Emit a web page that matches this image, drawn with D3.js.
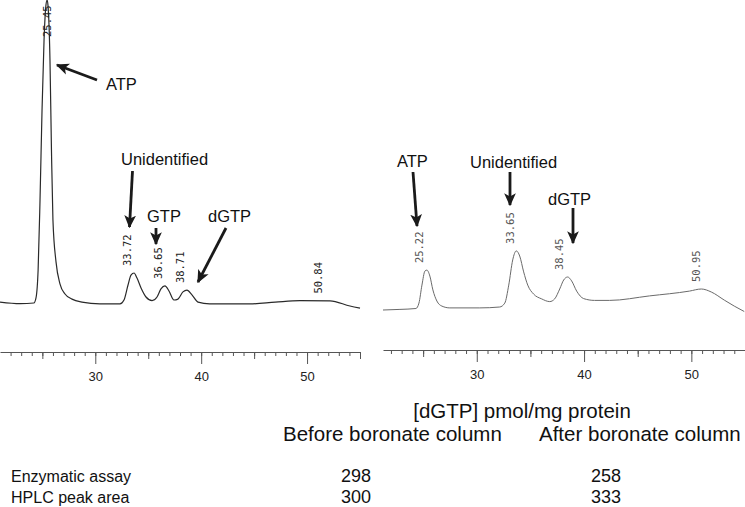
<!DOCTYPE html>
<html lang="en">
<head>
    <meta charset="UTF-8">
    <title>dGTP HPLC</title>
    <script src="https://cdn.jsdelivr.net/npm/d3@7"></script>
    <style>
        body { margin: 0; background: #fff; }
    </style>
</head>
<body>

<script>

    // trace before boronate column: retention time (min) / detector signal (arb. units)
    var beforeTime = [21.0, 22.9, 24.2, 24.4, 24.6, 24.78, 24.97, 25.16, 25.34, 25.45, 25.53, 25.72, 25.86, 26.0,
        26.29, 26.67, 27.14, 27.8, 28.74, 30.44, 32.33, 32.71, 33.09, 33.37, 33.66, 33.94, 34.32, 34.79, 35.36,
        35.83, 36.2, 36.58, 36.96, 37.43, 37.81, 38.28, 38.66, 39.13, 39.7, 40.8, 44.6, 47.0, 49.33, 52.17, 54.05, 55.0];
    var beforeSignal = [0.3, -0.2, 0, 1.7, 11, 34.3, 64.3, 87.7, 99.3, 101, 99.3, 81, 51, 27.7,
        13.7, 6.3, 3, 1.3, 0.3, -0.3, -0.3, 1, 6, 9.3, 10, 8.3, 5, 2, 0.8,
        2, 4.7, 5.7, 4, 1, 1.3, 3.7, 4.3, 2.7, 0.3, -0.3, -0.3, 0.3, 0.8, 0.7, -1, -1.7];

    // trace after boronate column
    var afterTime = [21.26, 22.84, 24.33, 24.61, 24.89, 25.17, 25.35, 25.63, 25.91, 26.28, 26.75, 27.49, 30.28,
        32.14, 32.61, 32.98, 33.35, 33.68, 34.0, 34.37, 34.75, 35.3, 36.05, 36.8, 37.26, 37.73, 38.1, 38.47,
        38.84, 39.31, 39.96, 40.98, 42.38, 46.1, 49.82, 50.93, 51.86, 53.07, 54.0, 54.93];
    var afterSignal = [0, 0.2, 0.5, 2.3, 8.3, 13, 13.3, 11.3, 6.7, 3, 1.3, 0.7, 0.7,
        1, 2.3, 8.3, 16.7, 19.7, 18, 12.7, 8.3, 5.3, 3.7, 2.8, 3.7, 7, 10, 11,
        9.7, 6.3, 3.8, 3.2, 3.2, 4.7, 6.3, 7, 6, 3.3, 1.3, -0.5];

    // integrator retention times printed on the peaks
    var beforePeaks = [25.45, 33.72, 36.65, 38.71, 50.84];
    var afterPeaks = [25.22, 33.65, 38.45, 50.95];

    // ruler
    var majorTicks = [30, 40, 50];
    var midTicks = [25, 35, 45, 55];

    // table
    var tableTitle = "[dGTP] pmol/mg protein";
    var columns = ["Before boronate column", "After boronate column"];
    var rowLabels = ["Enzymatic assay", "HPLC peak area"];
    var beforeValues = [298, 300];
    var afterValues = [258, 333];


    var w = 745, h = 507;

    var svg = d3.select("body")
        .append("svg")
        .attr("width", w)
        .attr("height", h)
        .style("font-family", "'Liberation Sans', Arial, sans-serif");

    // arrow head
    svg.append("defs").append("marker")
        .attr("id", "head")
        .attr("viewBox", "0 0 10 10")
        .attr("refX", 9)
        .attr("refY", 5)
        .attr("markerUnits", "userSpaceOnUse")
        .attr("markerWidth", 13)
        .attr("markerHeight", 13)
        .attr("orient", "auto")
        .append("path")
        .attr("d", "M0,0.5 L10,5 L0,9.5 L2.5,5 Z")
        .attr("fill", "#1a1a1a");

    // two panels, each with its own scales
    var panels = [
        {
            time: beforeTime, signal: beforeSignal, peaks: beforePeaks,
            x: d3.scaleLinear().domain([21, 55]).range([0, 360]),
            y: d3.scaleLinear().domain([0, 100]).range([303, 3]),
            ruler: 352, stroke: "#2a2a2a", width: 1.2, text: "#222",
            labelDx: [0, -7, -7.5, -7.5, 2.5]
        },
        {
            time: afterTime, signal: afterSignal, peaks: afterPeaks,
            x: d3.scaleLinear().domain([21.26, 55]).range([383, 745]),
            y: d3.scaleLinear().domain([0, 100]).range([310, 10]),
            ruler: 350, stroke: "#6a6a6a", width: 1, text: "#555",
            labelDx: [-6.5, -6, -8, -5]
        }
    ];

    panels.forEach(function (p) {
        var pts = p.time.map(function (t, i) { return [t, p.signal[i]]; });

        var line = d3.line()
            .x(function (d) { return p.x(d[0]); })
            .y(function (d) { return p.y(d[1]); })
            .curve(d3.curveMonotoneX);

        svg.append("path")
            .datum(pts)
            .attr("d", line)
            .attr("fill", "none")
            .attr("stroke", p.stroke)
            .attr("stroke-width", p.width);

        // retention time labels, rotated
        svg.append("g").selectAll("text")
            .data(p.peaks)
            .enter()
            .append("text")
            .attr("transform", function (d, i) {
                // height of the trace at the peak
                var k = d3.minIndex(p.time, function (t) { return Math.abs(t - d); });
                var top = p.y(d3.max(p.signal.slice(Math.max(0, k - 1), k + 2)));
                var yb = Math.max(top - 7, 37);
                return "translate(" + (p.x(d) + p.labelDx[i]) + "," + yb + ") rotate(-90)";
            })
            .attr("dy", "0.35em")
            .attr("font-family", "'DejaVu Sans Mono', monospace")
            .attr("font-size", "10.5px")
            .attr("fill", p.text)
            .text(function (d) { return d.toFixed(2); });

        // ruler under each trace
        var g = svg.append("g").attr("transform", "translate(0," + p.ruler + ")");

        var minor = d3.axisBottom(p.x)
            .tickValues(d3.range(22, 56))
            .tickSize(4)
            .tickSizeOuter(0)
            .tickFormat("");
        g.append("g").call(minor);

        var mid = d3.axisBottom(p.x)
            .tickValues(midTicks)
            .tickSize(7)
            .tickFormat("");
        g.append("g").call(mid).select(".domain").remove();

        var major = d3.axisBottom(p.x)
            .tickValues(majorTicks)
            .tickSize(12)
            .tickPadding(8);
        g.append("g").call(major).select(".domain").remove();

        g.selectAll("line, path").attr("stroke", "#555");
        g.selectAll("text")
            .attr("font-family", "'Liberation Sans', Arial, sans-serif")
            .attr("font-size", "13px")
            .attr("fill", "#222");
    });

    // annotations
    var notes = [
        {label: "ATP", tx: 106, ty: 90, from: [97, 80], to: [57, 65]},
        {label: "Unidentified", tx: 121, ty: 165, from: [132.5, 171], to: [129.5, 227]},
        {label: "GTP", tx: 147, ty: 222, from: [156, 228], to: [156, 244]},
        {label: "dGTP", tx: 208, ty: 222, from: [226, 228], to: [198, 282]},
        {label: "ATP", tx: 397, ty: 167, from: [413, 172], to: [417, 226]},
        {label: "Unidentified", tx: 470, ty: 168, from: [510, 172], to: [510, 205]},
        {label: "dGTP", tx: 548, ty: 205, from: [573, 208], to: [573, 243]}
    ];

    var ann = svg.append("g").selectAll("g")
        .data(notes)
        .enter()
        .append("g");

    ann.append("text")
        .attr("x", function (d) { return d.tx; })
        .attr("y", function (d) { return d.ty; })
        .attr("font-size", "16.5px")
        .attr("fill", "#111")
        .text(function (d) { return d.label; });

    ann.append("line")
        .attr("x1", function (d) { return d.from[0]; })
        .attr("y1", function (d) { return d.from[1]; })
        .attr("x2", function (d) { return d.to[0]; })
        .attr("y2", function (d) { return d.to[1]; })
        .attr("stroke", "#1a1a1a")
        .attr("stroke-width", 2.8)
        .attr("marker-end", "url(#head)");

    // table
    var tbl = svg.append("g")
        .attr("fill", "#111");

    tbl.append("text")
        .attr("x", 522)
        .attr("y", 418)
        .attr("font-size", "20.5px")
        .attr("text-anchor", "middle")
        .text(tableTitle);

    tbl.selectAll(".col")
        .data(columns)
        .enter()
        .append("text")
        .attr("class", "col")
        .attr("x", function (d, i) { return [283, 539][i]; })
        .attr("y", 441)
        .attr("font-size", "20.5px")
        .text(function (d) { return d; });

    var rows = tbl.selectAll(".row")
        .data(rowLabels)
        .enter()
        .append("g")
        .attr("class", "row")
        .attr("font-size", "17px")
        .attr("transform", function (d, i) { return "translate(0," + (482 + i * 21) + ")"; });

    rows.append("text")
        .attr("x", 11)
        .attr("font-size", "16px")
        .text(function (d) { return d; });

    rows.append("text")
        .attr("x", 356)
        .attr("text-anchor", "middle")
        .attr("font-size", "18px")
        .text(function (d, i) { return beforeValues[i]; });

    rows.append("text")
        .attr("x", 606)
        .attr("text-anchor", "middle")
        .attr("font-size", "18px")
        .text(function (d, i) { return afterValues[i]; });

</script>

</body>
</html>
